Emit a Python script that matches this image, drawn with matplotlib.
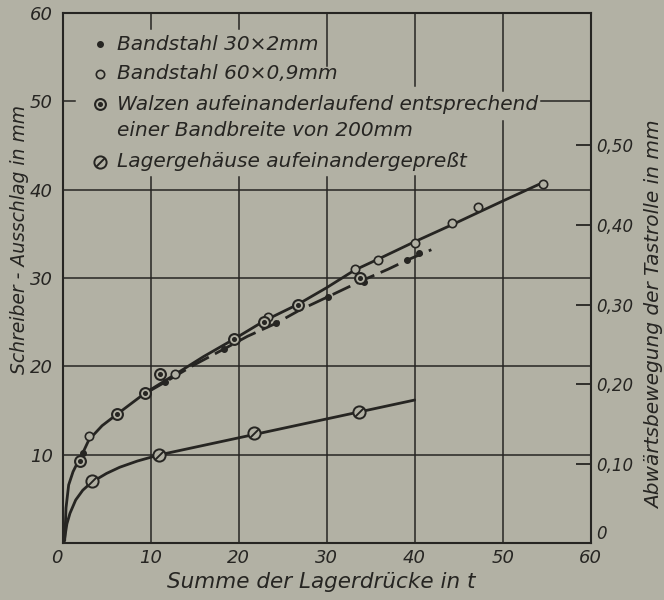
import matplotlib
matplotlib.use("Agg")
import matplotlib.pyplot as plt
from matplotlib.path import Path

# ---------------- data ----------------
# Bandstahl 30x2 mm  (filled dots, dashed curve)
band30_x = [2.3, 11.6, 18.4, 24.3, 30.2, 34.2, 39.1, 40.5]
band30_y = [10.2, 18.2, 22.0, 24.9, 27.9, 29.6, 32.0, 32.8]
# Bandstahl 60x0,9 mm  (small open circles)
band60_x = [3.0, 12.8, 23.4, 33.2, 35.8, 40.0, 44.2, 47.2, 54.6]
band60_y = [12.1, 19.1, 25.6, 31.0, 32.0, 34.0, 36.2, 38.0, 40.6]
# Walzen aufeinanderlaufend (circle with dot)
walzen_x = [2.0, 6.2, 9.4, 11.1, 19.5, 22.9, 26.7, 33.8]
walzen_y = [9.3, 14.6, 17.0, 19.1, 23.1, 25.0, 26.9, 30.0]
# Lagergehaeuse aufeinandergepresst (circle with slash)
lager_x = [3.3, 11.0, 21.7, 33.7]
lager_y = [7.0, 10.0, 12.5, 14.9]

# faired curves as drawn in the picture
upper_curve_x = [0.25, 0.4, 0.7, 1.2, 1.7, 2.2, 3.0, 4.5, 6.2, 9.4, 12.8, 16.0, 19.5,
                 23.0, 26.7, 30.0, 33.2, 36.0, 40.0, 44.2, 47.2, 50.0, 54.8]
upper_curve_y = [0.3, 4.0, 6.6, 8.1, 9.1, 10.0, 11.7, 13.3, 14.6, 17.0, 19.1, 21.1, 23.1,
                 25.2, 27.0, 28.9, 30.9, 32.2, 34.1, 36.0, 37.4, 38.7, 40.9]
dashed_curve_x = [9.5, 11.6, 15.0, 18.4, 21.0, 24.3, 27.0, 30.2, 34.0, 37.0, 39.1, 41.9]
dashed_curve_y = [17.0, 18.2, 20.2, 22.0, 23.4, 24.9, 26.4, 27.9, 29.7, 31.0, 32.0, 33.2]
lower_curve_x = [0.2, 0.5, 0.85, 1.5, 2.3, 3.3, 5.0, 6.5, 8.5, 11.0, 40.0]
lower_curve_y = [0.3, 2.2, 3.4, 4.9, 6.0, 6.9, 7.9, 8.6, 9.3, 10.0, 16.2]

x_ticks = [0, 10, 20, 30, 40, 50, 60]
y_ticks = [10, 20, 30, 40, 50, 60]
right_ticks = [0, 0.10, 0.20, 0.30, 0.40, 0.50]
right_labels = ["0", "0,10", "0,20", "0,30", "0,40", "0,50"]
scale_factor = 90.0          # 0,10 mm  <->  9 mm Schreiber-Ausschlag

legend_labels = ["Bandstahl 30×2mm",
                 "Bandstahl 60×0,9mm",
                 "Walzen aufeinanderlaufend entsprechend",
                 "einer Bandbreite von 200mm",
                 "Lagergehäuse aufeinandergepreßt"]

# ---------------- style ----------------
BG = "#b2b1a4"
INK = "#262522"
FONT = dict(family="DejaVu Sans", style="oblique", color=INK)

fig = plt.figure(figsize=(6.64, 6.0), dpi=100, facecolor=BG)
W, H = 664, 600
L, R, T, B = 62.5, 590.7, 12.7, 543.3
ax = fig.add_axes([L / W, 1 - B / H, (R - L) / W, (B - T) / H])
ax.set_facecolor(BG)
ax.set_xlim(0, 60)
ax.set_ylim(0, 60)

# grid with gaps where the legend text sits
vgrid = {10: [(0, 41.4), (58.2, 60)], 20: [(0, 41.4), (58.2, 60)],
         30: [(0, 41.4), (54.0, 60)], 40: [(0, 41.5), (51.7, 60)],
         50: [(0, 47.7), (51.2, 60)]}
hgrid = {10: [(0, 60)], 20: [(0, 60)], 30: [(0, 60)], 40: [(0, 60)],
         50: [(0, 1.4), (54.4, 60)]}
for xv, segs in vgrid.items():
    for a, b in segs:
        ax.plot([xv, xv], [a, b], color=INK, lw=1.1, zorder=1)
for yv, segs in hgrid.items():
    for a, b in segs:
        ax.plot([a, b], [yv, yv], color=INK, lw=1.1, zorder=1)

for s in ax.spines.values():
    s.set_color(INK)
    s.set_linewidth(1.5)

# curves
ax.plot(upper_curve_x, upper_curve_y, color=INK, lw=2.0, zorder=3,
        solid_capstyle="round")
ax.plot(dashed_curve_x, dashed_curve_y, color=INK, lw=2.0, zorder=3,
        dashes=(7, 2.5))
ax.plot(lower_curve_x, lower_curve_y, color=INK, lw=2.0, zorder=3,
        solid_capstyle="round")

slash = Path([(-1, -1), (1, 1)], [Path.MOVETO, Path.LINETO])


def mk_band30(x, y, **kw):
    ax.plot(x, y, ls="none", marker="o", ms=4.0, mfc=INK, mec=INK, zorder=5, **kw)


def mk_band60(x, y, **kw):
    ax.plot(x, y, ls="none", marker="o", ms=6.0, mfc=BG, mec=INK, mew=1.2,
            zorder=5, **kw)


def mk_walzen(x, y, **kw):
    ax.plot(x, y, ls="none", marker="o", ms=7.8, mfc=BG, mec=INK, mew=1.5,
            zorder=6, **kw)
    ax.plot(x, y, ls="none", marker="o", ms=2.6, mfc=INK, mec=INK, zorder=7, **kw)


def mk_lager(x, y, **kw):
    ax.plot(x, y, ls="none", marker="o", ms=8.8, mfc=BG, mec=INK, mew=1.4,
            zorder=6, **kw)
    ax.plot(x, y, ls="none", marker=slash, ms=6.6, mec=INK, mew=1.4,
            zorder=7, **kw)


mk_band30(band30_x, band30_y)
mk_band60(band60_x, band60_y)
mk_walzen(walzen_x, walzen_y)
mk_lager(lager_x, lager_y)

# ticks
ax.set_xticks(x_ticks)
ax.set_xticklabels([str(v) for v in x_ticks])
ax.set_yticks(y_ticks)
ax.set_yticklabels([str(v) for v in y_ticks])
ax.tick_params(axis="both", length=0, labelsize=13, colors=INK)
ax.tick_params(axis="x", pad=4)
ax.tick_params(axis="y", pad=7)
for lab in ax.get_xticklabels() + ax.get_yticklabels():
    lab.set_fontstyle("oblique")
ax.get_xticklabels()[0].set_ha("right")

ax2 = ax.twinx()
ax2.set_ylim(0, 60 / scale_factor)
ax2.set_yticks(right_ticks)
ax2.set_yticklabels(right_labels)
ax2.tick_params(axis="y", direction="in", length=11, width=1.3, colors=INK,
                labelsize=12, pad=4)
for lab in ax2.get_yticklabels():
    lab.set_fontstyle("oblique")
ax2.get_yticklabels()[0].set_va("bottom")
for s in ax2.spines.values():
    s.set_visible(False)

# legend (hand drawn like the original)
leg_y = [0.9405, 0.8845, 0.8274, 0.7789, 0.7192]
mx, tx = 0.071, 0.103
mk_band30([mx], [leg_y[0]], transform=ax.transAxes, clip_on=False)
mk_band60([mx], [leg_y[1]], transform=ax.transAxes, clip_on=False)
mk_walzen([mx], [leg_y[2]], transform=ax.transAxes, clip_on=False)
mk_lager([mx], [leg_y[4]], transform=ax.transAxes, clip_on=False)
for yy, txt in zip(leg_y, legend_labels):
    ax.text(tx, yy, txt, transform=ax.transAxes, fontsize=14.5, va="center",
            ha="left", zorder=8, **FONT)

# axis titles
fig.text(20 / W, 1 - 240 / H, "Schreiber - Ausschlag in mm", rotation=90,
         ha="center", va="center", fontsize=13.5, **FONT)
fig.text(655 / W, 1 - 315 / H, "Abwärtsbewegung der Tastrolle in mm", rotation=90,
         ha="center", va="center", fontsize=14.5, **FONT)
fig.text(321 / W, 1 - 582 / H, "Summe der Lagerdrücke in t",
         ha="center", va="center", fontsize=15.5, **FONT)

fig.savefig("out.png", dpi=100, facecolor=BG)
